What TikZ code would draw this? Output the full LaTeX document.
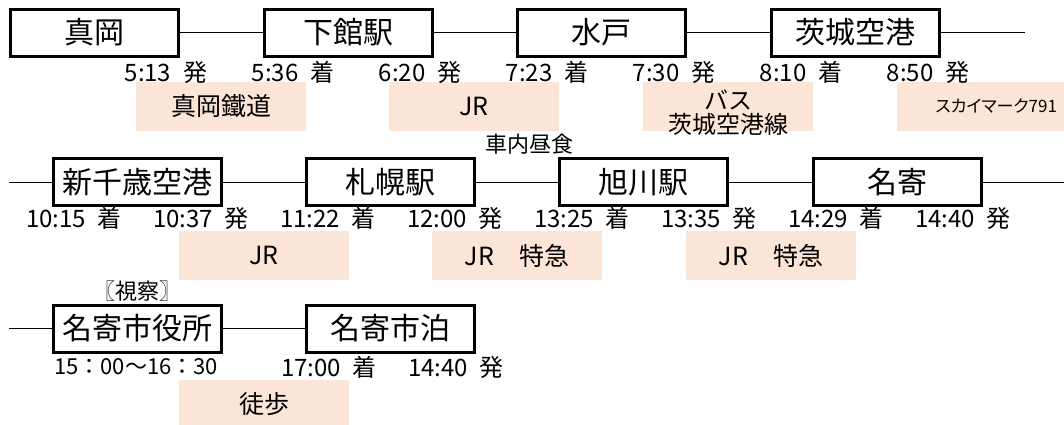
\documentclass[tikz,border=0pt]{standalone}
\usepackage{fontspec}
\setmainfont{Noto Sans CJK JP}
\newfontfamily\paltfont[RawFeature=+palt]{Noto Sans CJK JP}
\definecolor{ridefill}{RGB}{251,229,214}

\begin{document}
\begin{tikzpicture}[x=1pt, y=-1pt]
        % Define styles for shapes
        \tikzstyle{station} = [draw, line width=3pt, minimum width=168pt, minimum height=47pt, inner sep=0pt, font=\fontsize{30}{36}\selectfont]
        \tikzstyle{ride} = [fill=ridefill, minimum width=170pt, minimum height=49pt, inner sep=0pt, font=\fontsize{25}{27}\selectfont]
        \tikzstyle{timetext} = [inner sep=0pt, font=\fontsize{24}{28}\selectfont]
        \tikzstyle{note} = [inner sep=0pt, font=\fontsize{22}{26}\selectfont]
        \tikzstyle{link} = [line width=1pt]
        \useasboundingbox (0,0) rectangle (1064,424);

        % Draw transport boxes
        \node[ride] (ride1) at (221, 106.5) {真岡鐵道};
        \node[ride] (ride2) at (474, 106.5) {JR};
        \node[ride, label={[font=\fontsize{24}{24}\selectfont, align=center, yshift=-6pt]center:バス\\茨城空港線}] (ride3) at (728, 106.5) {};
        \node[ride, text width=150pt, align=right, font=\paltfont\fontsize{17}{20}\selectfont] (ride4) at (982, 106.5) {スカイマーク791};
        \node[ride] (ride5) at (264, 255.5) {JR};
        \node[ride] (ride6) at (517, 255.5) {JR　特急};
        \node[ride] (ride7) at (771, 255.5) {JR　特急};
        \node[ride] (ride8) at (264, 404.5) {徒歩};

        % Draw stations
        \node[station] (mooka) at (94, 32.5) {真岡};
        \node[station] (shimodate) at (348, 32.5) {下館駅};
        \node[station] (mito) at (601.5, 32.5) {水戸};
        \node[station] (ibaraki) at (855.5, 32.5) {茨城空港};
        \coordinate (end1) at (1025, 32.5);

        \coordinate (start2) at (9, 182);
        \node[station] (chitose) at (137, 182) {新千歳空港};
        \node[station] (sapporo) at (390, 182) {札幌駅};
        \node[station] (asahikawa) at (643.5, 182) {旭川駅};
        \node[station] (nayoro) at (897, 182) {名寄};
        \coordinate (end2) at (1064, 182);

        \coordinate (start3) at (9, 328.5);
        \node[station] (cityhall) at (137, 328.5) {名寄市役所};
        \node[station] (hotel) at (390, 328.5) {名寄市泊};

        % Draw lines
        \draw[link] (mooka) -- (shimodate);
        \draw[link] (shimodate) -- (mito);
        \draw[link] (mito) -- (ibaraki);
        \draw[link] (ibaraki) -- (end1);
        \draw[link] (start2) -- (chitose);
        \draw[link] (chitose) -- (sapporo);
        \draw[link] (sapporo) -- (asahikawa);
        \draw[link] (asahikawa) -- (nayoro);
        \draw[link] (nayoro) -- (end2);
        \draw[link] (start3) -- (cityhall);
        \draw[link] (cityhall) -- (hotel);

        % Times
        \node[timetext] (t11) at (166, 72) {5:13\enspace 発};
        \node[timetext] (t12) at (293, 72) {5:36\enspace 着};
        \node[timetext] (t13) at (420, 72) {6:20\enspace 発};
        \node[timetext] (t14) at (547, 72) {7:23\enspace 着};
        \node[timetext] (t15) at (674, 72) {7:30\enspace 発};
        \node[timetext] (t16) at (801, 72) {8:10\enspace 着};
        \node[timetext] (t17) at (928, 72) {8:50\enspace 発};

        \node[timetext] (t21) at (74, 218.5) {10:15\enspace 着};
        \node[timetext] (t22) at (201, 218.5) {10:37\enspace 発};
        \node[timetext] (t23) at (328, 218.5) {11:22\enspace 着};
        \node[timetext] (t24) at (455, 218.5) {12:00\enspace 発};
        \node[timetext] (t25) at (582, 218.5) {13:25\enspace 着};
        \node[timetext] (t26) at (709, 218.5) {13:35\enspace 発};
        \node[timetext] (t27) at (836, 218.5) {14:29\enspace 着};
        \node[timetext] (t28) at (963, 218.5) {14:40\enspace 発};

        \node[timetext, font=\fontsize{22}{26}\selectfont] (t31) at (136, 367) {15：00〜16：30};
        \node[timetext] (t32) at (329, 367) {17:00\enspace 着};
        \node[timetext] (t33) at (456, 367) {14:40\enspace 発};

        % Notes
        \node[note] (lunch) at (529, 144) {車内昼食};
        \node[note, font=\paltfont\fontsize{22}{26}\selectfont] (visit) at (137.5, 291) {〖視察〗};
    \end{tikzpicture}
\end{document}
